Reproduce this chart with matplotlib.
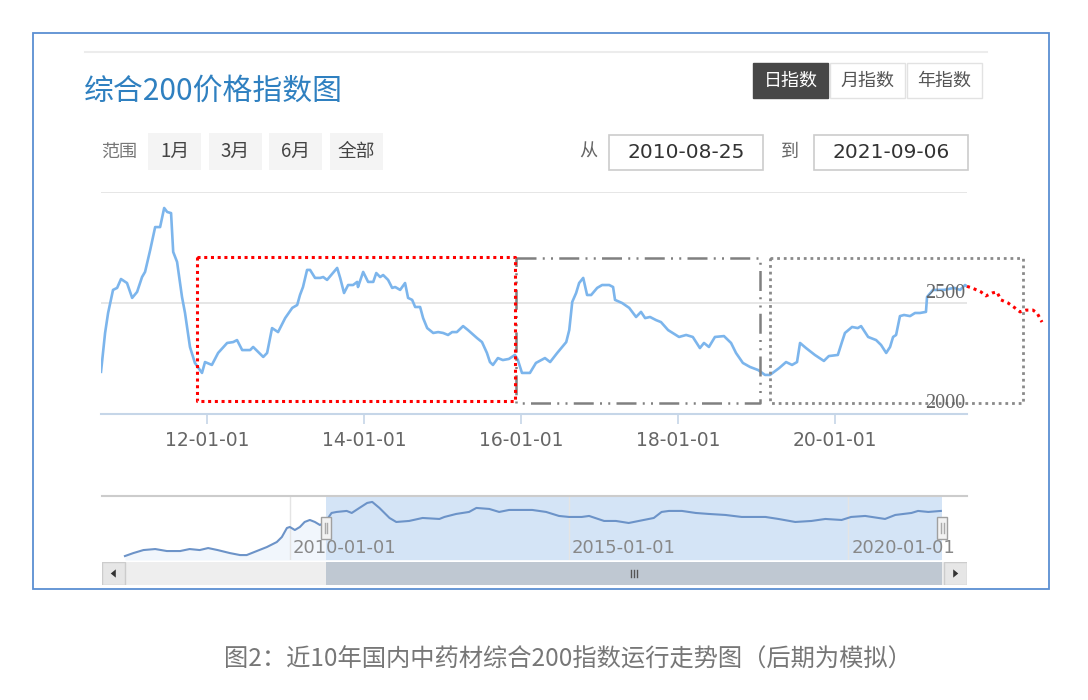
import matplotlib
matplotlib.use('Agg')
import matplotlib.pyplot as plt
import matplotlib.dates as mdates
import matplotlib.transforms as mtransforms
from matplotlib.patches import Rectangle, Polygon
import pandas as pd

plt.rcParams['font.family'] = ['Noto Sans CJK SC', 'DejaVu Sans']

title = '综合200价格指数图'
caption = '图2：近10年国内中药材综合200指数运行走势图（后期为模拟）'
range_label = '范围'
range_buttons = ['1月', '3月', '6月', '全部']
index_buttons = ['日指数', '月指数', '年指数']
from_label, to_label = '从', '到'
date_from = '2010-08-25'
date_to = '2021-09-06'

# daily index (main chart)
dates = ['2010-08-25', '2010-09-13', '2010-09-27', '2010-10-20', '2010-11-08', '2010-11-26', '2010-12-24',
         '2011-01-17', '2011-02-09', '2011-03-04', '2011-03-18', '2011-04-11', '2011-05-04', '2011-05-27',
         '2011-06-15', '2011-06-29', '2011-07-17', '2011-07-27', '2011-08-14', '2011-09-06', '2011-09-20',
         '2011-10-13', '2011-11-05', '2011-12-08', '2011-12-22',
         '2012-01-23', '2012-02-21', '2012-04-03', '2012-05-01', '2012-05-19', '2012-06-12', '2012-07-19',
         '2012-08-02', '2012-09-18', '2012-10-06', '2012-10-29', '2012-11-26', '2012-12-29',
         '2013-01-31', '2013-02-23', '2013-03-08', '2013-03-22', '2013-04-10', '2013-04-24', '2013-05-17',
         '2013-06-10', '2013-06-24', '2013-07-12', '2013-08-28', '2013-09-11', '2013-09-29', '2013-10-18',
         '2013-11-10', '2013-11-29', '2013-12-03', '2013-12-27',
         '2014-01-19', '2014-02-12', '2014-02-26', '2014-03-16', '2014-03-30', '2014-04-22', '2014-05-11',
         '2014-05-25', '2014-06-17', '2014-07-10', '2014-07-24', '2014-08-12', '2014-08-26', '2014-09-18',
         '2014-10-02', '2014-10-21', '2014-11-18', '2014-12-11',
         '2015-01-03', '2015-01-26', '2015-02-14', '2015-03-08', '2015-04-06', '2015-04-29', '2015-06-10',
         '2015-07-03', '2015-07-26', '2015-08-09', '2015-08-23', '2015-09-15', '2015-10-08', '2015-11-05',
         '2015-12-03', '2015-12-17',
         '2016-01-05', '2016-02-11', '2016-03-10', '2016-04-21', '2016-05-15', '2016-06-17', '2016-07-29',
         '2016-08-12', '2016-08-26', '2016-09-13', '2016-09-27', '2016-10-16', '2016-11-03', '2016-11-22',
         '2016-12-20',
         '2017-01-12', '2017-02-14', '2017-03-04', '2017-03-13', '2017-04-15', '2017-05-18', '2017-06-19',
         '2017-07-12', '2017-07-31', '2017-08-23', '2017-09-20', '2017-10-13', '2017-11-15',
         '2018-01-05', '2018-02-07', '2018-03-10', '2018-04-12', '2018-05-01', '2018-05-24', '2018-06-21',
         '2018-08-02', '2018-09-04', '2018-09-27', '2018-10-29', '2018-12-01',
         '2019-01-08', '2019-02-09', '2019-03-04', '2019-04-16', '2019-05-18', '2019-06-15', '2019-07-08',
         '2019-07-22', '2019-08-19', '2019-09-29', '2019-11-10', '2019-12-03',
         '2020-01-14', '2020-02-02', '2020-02-16', '2020-03-20', '2020-04-16', '2020-05-01', '2020-06-03',
         '2020-07-10', '2020-08-02', '2020-08-26', '2020-09-13', '2020-09-27', '2020-10-11', '2020-10-29',
         '2020-11-17', '2020-12-15',
         '2021-01-07', '2021-01-30', '2021-02-27', '2021-03-04', '2021-04-01', '2021-05-22', '2021-07-08',
         '2021-08-05', '2021-08-28', '2021-09-06']
values = [2190, 2365, 2455, 2559, 2568, 2608, 2590,
          2523, 2550, 2617, 2640, 2739, 2842, 2842, 2928, 2910, 2905, 2730, 2685, 2527, 2455, 2302, 2230,
          2185, 2234,
          2221, 2275, 2320, 2324, 2333, 2288, 2288, 2302, 2257, 2275, 2387, 2369, 2432,
          2478, 2491, 2536, 2572, 2649, 2649, 2613, 2613, 2617, 2604, 2658, 2613, 2545, 2581, 2581, 2595,
          2572, 2640,
          2595, 2595, 2635, 2617, 2626, 2604, 2568, 2572, 2559, 2590, 2523, 2514, 2482, 2482, 2432, 2387,
          2365, 2369,
          2365, 2356, 2369, 2369, 2396, 2378, 2342, 2324, 2275, 2234, 2221, 2252, 2243, 2248, 2266, 2243,
          2185, 2185, 2230, 2252, 2234, 2275, 2324, 2378, 2505, 2545, 2590, 2613, 2536, 2536, 2568,
          2581, 2581, 2572, 2514, 2500, 2478, 2437, 2460, 2432, 2437, 2423, 2414, 2378,
          2347, 2356, 2347, 2297, 2320, 2302, 2347, 2351, 2320, 2275, 2230, 2212,
          2198, 2176, 2176, 2207, 2234, 2221, 2234, 2320, 2297, 2266, 2239, 2261,
          2266, 2324, 2365, 2392, 2387, 2396, 2347, 2333, 2311, 2275, 2302, 2347, 2356, 2441, 2446, 2441,
          2455, 2455, 2460, 2527, 2559, 2559, 2568, 2559, 2581, 2575]

# simulated continuation (red dotted)
sim_dates = ['2021-09-06', '2021-09-29', '2021-11-10', '2021-12-03', '2022-01-01', '2022-01-23', '2022-02-11',
             '2022-03-16', '2022-04-17', '2022-05-11', '2022-06-08', '2022-07-10', '2022-07-29', '2022-08-21']
sim_values = [2575, 2568, 2550, 2532, 2545, 2550, 2514, 2500, 2478, 2460, 2468, 2468, 2455, 2414]

# navigator series
nav_dates = ['2007-01-19', '2007-03-15', '2007-05-20', '2007-08-05', '2007-10-20',
             '2008-01-15', '2008-03-17', '2008-05-22', '2008-07-16', '2008-09-16', '2008-12-05',
             '2009-02-10', '2009-03-25', '2009-05-30', '2009-08-04', '2009-10-08', '2009-11-10', '2009-12-13',
             '2010-01-01', '2010-02-03', '2010-03-08', '2010-04-08', '2010-05-12', '2010-06-14', '2010-07-17',
             '2010-08-22', '2010-10-01', '2010-11-03',
             '2011-01-08', '2011-02-10', '2011-04-01', '2011-05-22', '2011-06-24', '2011-08-10', '2011-10-15',
             '2011-11-28',
             '2012-02-20', '2012-05-18', '2012-09-05', '2012-10-08', '2012-12-24',
             '2013-03-18', '2013-05-05', '2013-07-28', '2013-10-01', '2013-12-05',
             '2014-02-28', '2014-05-05', '2014-08-04', '2014-10-27',
             '2015-01-01', '2015-03-25', '2015-05-12', '2015-08-18', '2015-11-03',
             '2016-01-26', '2016-04-01', '2016-07-08', '2016-08-28', '2016-10-15',
             '2017-01-08', '2017-04-08', '2017-07-02', '2017-10-19',
             '2018-02-03', '2018-07-08', '2018-10-01',
             '2019-01-19', '2019-05-05', '2019-08-04', '2019-11-18',
             '2020-01-19', '2020-04-20', '2020-08-28', '2020-11-03',
             '2021-02-17', '2021-04-01', '2021-06-07', '2021-08-28']
nav_values = [898, 1010, 1123, 1161, 1086,
              1086, 1161, 1123, 1198, 1123, 1010,
              935, 935, 1086, 1236, 1424, 1612, 1950,
              1988, 1875, 1988, 2176, 2251, 2176, 2063, 2176, 2514, 2552,
              2590, 2514, 2702, 2890, 2928, 2702, 2326, 2176,
              2214, 2326, 2289, 2364, 2477,
              2552, 2702, 2665, 2552, 2627,
              2627, 2627, 2552, 2402,
              2364, 2364, 2402, 2214, 2214,
              2138, 2214, 2326, 2552, 2590,
              2590, 2514, 2477, 2439,
              2364, 2364, 2289,
              2176, 2214, 2289, 2251,
              2364, 2402, 2289, 2439,
              2514, 2590, 2552, 2590]
nav_start, nav_end = '2006-08-22', '2022-02-15'
nav_ticks = ['2010-01-01', '2015-01-01', '2020-01-01']

# annotation boxes (start, end, low, high)
red_box = ('2011-11-15', '2015-12-03', 2059, 2707)
dashdot_box = ('2015-12-08', '2019-01-17', 2050, 2703)
dotted_box = ('2019-03-04', '2022-05-25', 2050, 2703)

y_grid = [2000, 2500, 3000]
y_labels = [2000, 2500]

W, H = 1088, 700
fig = plt.figure(figsize=(W / 100, H / 100), dpi=100)

# ---------- page decorations (pixel coordinates) ----------
bg = fig.add_axes([0, 0, 1, 1], zorder=0)
bg.set_xlim(0, W)
bg.set_ylim(H, 0)
bg.axis('off')
bg.add_patch(Rectangle((33, 33), 1016, 556, fill=False, ec='#5b8fd2', lw=1.3))
bg.plot([85, 987], [52, 52], color='#ececec', lw=1.5)
bg.text(84, 91, title, fontsize=21.5, color='#2f80c0', ha='left', va='center')

for i, lab in enumerate(index_buttons):
    x0 = 753 + i * 77
    dark = i == 0
    bg.add_patch(Rectangle((x0, 63), 75, 35, fc='#474747' if dark else 'white',
                           ec='#474747' if dark else '#e2e2e2', lw=1))
    bg.text(x0 + 37.5, 80.5, lab, fontsize=13, color='white' if dark else '#555555',
            ha='center', va='center')

bg.text(101, 152, range_label, fontsize=13, color='#777777', ha='left', va='center')
for i, lab in enumerate(range_buttons):
    x0 = 148 + i * 60.7
    bg.add_patch(Rectangle((x0, 133), 53, 37, fc='#f4f4f4', ec='none'))
    bg.text(x0 + 26.5, 151.5, lab, fontsize=13.5, color='#444444', ha='center', va='center')

bg.text(588, 152, from_label, fontsize=13, color='#666666', ha='center', va='center')
bg.text(790, 152, to_label, fontsize=13, color='#666666', ha='center', va='center')
for x0, lab in [(609, date_from), (814, date_to)]:
    bg.add_patch(Rectangle((x0, 135), 154, 35, fc='white', ec='#cccccc', lw=1.2))
    bg.text(x0 + 77, 152.5, lab, fontsize=14.5, color='#333333', ha='center', va='center',
            family='DejaVu Sans')

bg.text(568, 660, caption, fontsize=17.5, color='#777777', ha='center', va='center')

# ---------- main chart ----------
d = pd.to_datetime(dates)
ax = fig.add_axes([101 / W, 1 - 414 / H, 866 / W, 222 / H], zorder=2)
ax.set_facecolor('none')
ax.plot(d, values, color='#7cb5ec', lw=1.9, zorder=3, solid_joinstyle='round')
ax.plot(pd.to_datetime(sim_dates), sim_values, color='#ff0000', lw=2.2, ls=(0, (1, 1.3)),
        clip_on=False, zorder=4)
ax.set_xlim(pd.Timestamp(date_from), pd.Timestamp(date_to))
ax.set_ylim(2000, 3000)
ax.set_yticks(y_grid)
ax.grid(axis='y', color='#e2e2e2', lw=1.2)
ax.tick_params(axis='y', length=0, labelleft=False)
ax.xaxis.set_major_locator(mdates.YearLocator(2))
ax.xaxis.set_major_formatter(mdates.DateFormatter('%y-%m-%d'))
ax.tick_params(axis='x', length=7, width=1.2, color='#c6d6e8', labelsize=13.5,
               labelcolor='#666666', pad=5)
for lab in ax.get_xticklabels():
    lab.set_family('DejaVu Sans')
for s in ['top', 'left', 'right']:
    ax.spines[s].set_visible(False)
ax.spines['bottom'].set_color('#c6d6e8')
ax.spines['bottom'].set_linewidth(1.5)

trans = mtransforms.blended_transform_factory(ax.transAxes, ax.transData)
for v in y_labels:
    ax.text(0.998, v, str(v), transform=mtransforms.offset_copy(trans, fig=fig, y=10, units='dots'),
            ha='right', va='center', fontsize=14.5, color='#666666', family='Liberation Serif', zorder=6)


def draw_box(box, **kw):
    x0, x1 = pd.Timestamp(box[0]), pd.Timestamp(box[1])
    y0, y1 = box[2], box[3]
    ax.plot([x0, x1, x1, x0, x0], [y1, y1, y0, y0, y1], clip_on=False, **kw)


draw_box(dashdot_box, color='#808080', lw=1.8, ls=(0, (8, 2.5, 0.8, 2.5, 0.8, 2.5)), zorder=5)
draw_box(dotted_box, color='#8a8a8a', lw=2.0, ls=(0, (1, 1.4)), zorder=5)
draw_box(red_box, color='#ff0000', lw=2.2, ls=(0, (1, 1.2)), zorder=5)

# ---------- navigator ----------
nd = pd.to_datetime(nav_dates)
nav = fig.add_axes([102 / W, 1 - 560 / H, 865 / W, 64 / H], zorder=2)
nav.set_facecolor('none')
nav.set_xlim(pd.Timestamp(nav_start), pd.Timestamp(nav_end))
nav.set_ylim(750, 3150)
nav.fill_between(nd, nav_values, 750, color='#f1f6fc', lw=0, zorder=1)
nav.axvspan(pd.Timestamp(date_from), pd.Timestamp(date_to), color='#d4e4f6', lw=0, zorder=1.5)
nav.plot(nd, nav_values, color='#6c93c8', lw=1.5, zorder=3)
nav.xaxis.set_major_locator(mdates.YearLocator(5))
nav.grid(axis='x', color='#e4e4e4', lw=1, zorder=2)
nav.tick_params(length=0, labelbottom=False, labelleft=False)
nav.set_yticks([])
for s in ['bottom', 'left', 'right']:
    nav.spines[s].set_visible(False)
nav.spines['top'].set_color('#cccccc')
nav.spines['top'].set_linewidth(1.5)

ntrans = mtransforms.blended_transform_factory(nav.transData, nav.transAxes)
for t in nav_ticks:
    nav.text(pd.Timestamp(t), 0.19, t, transform=mtransforms.offset_copy(ntrans, fig=fig, x=3, units='dots'),
             ha='left', va='center', fontsize=13, color='#888888', family='DejaVu Sans', zorder=4)

for t in [date_from, date_to]:
    c = mdates.date2num(pd.Timestamp(t))
    nav.add_patch(Rectangle((c - 33, 0.33), 66, 0.34, transform=ntrans, fc='#f2f2f2', ec='#a0a0a0',
                            lw=1, clip_on=False, zorder=6))
    for dx in (-9, 9):
        nav.plot([c + dx, c + dx], [0.42, 0.58], transform=ntrans, color='#aaaaaa', lw=1,
                 clip_on=False, zorder=7)

# ---------- scrollbar ----------
sb = fig.add_axes([102 / W, 1 - 585 / H, 865 / W, 23 / H], zorder=2)
sb.set_xlim(pd.Timestamp(nav_start), pd.Timestamp(nav_end))
sb.set_ylim(0, 1)
sb.axis('off')
sb.add_patch(Rectangle((0, 0), 1, 1, transform=sb.transAxes, fc='#eeeeee', ec='none'))
sb.axvspan(pd.Timestamp(date_from), pd.Timestamp(date_to), color='#bfc8d2', lw=0)
bw = 23 / 865
sb.add_patch(Rectangle((0, 0), bw, 1, transform=sb.transAxes, fc='#e6e6e6', ec='#cccccc', lw=1))
sb.add_patch(Rectangle((1 - bw, 0), bw, 1, transform=sb.transAxes, fc='#e6e6e6', ec='#cccccc', lw=1))
sb.add_patch(Polygon([(bw * 0.38, 0.5), (bw * 0.6, 0.68), (bw * 0.6, 0.32)], closed=True,
                     transform=sb.transAxes, fc='#333333', ec='none'))
sb.add_patch(Polygon([(1 - bw * 0.38, 0.5), (1 - bw * 0.6, 0.68), (1 - bw * 0.6, 0.32)], closed=True,
                     transform=sb.transAxes, fc='#333333', ec='none'))
mid = mdates.date2num(pd.Timestamp(date_from)) / 2 + mdates.date2num(pd.Timestamp(date_to)) / 2
strans = mtransforms.blended_transform_factory(sb.transData, sb.transAxes)
for dx in (-20, 0, 20):
    sb.plot([mid + dx, mid + dx], [0.35, 0.65], transform=strans, color='#555555', lw=1)

fig.savefig('out.png', dpi=100)
